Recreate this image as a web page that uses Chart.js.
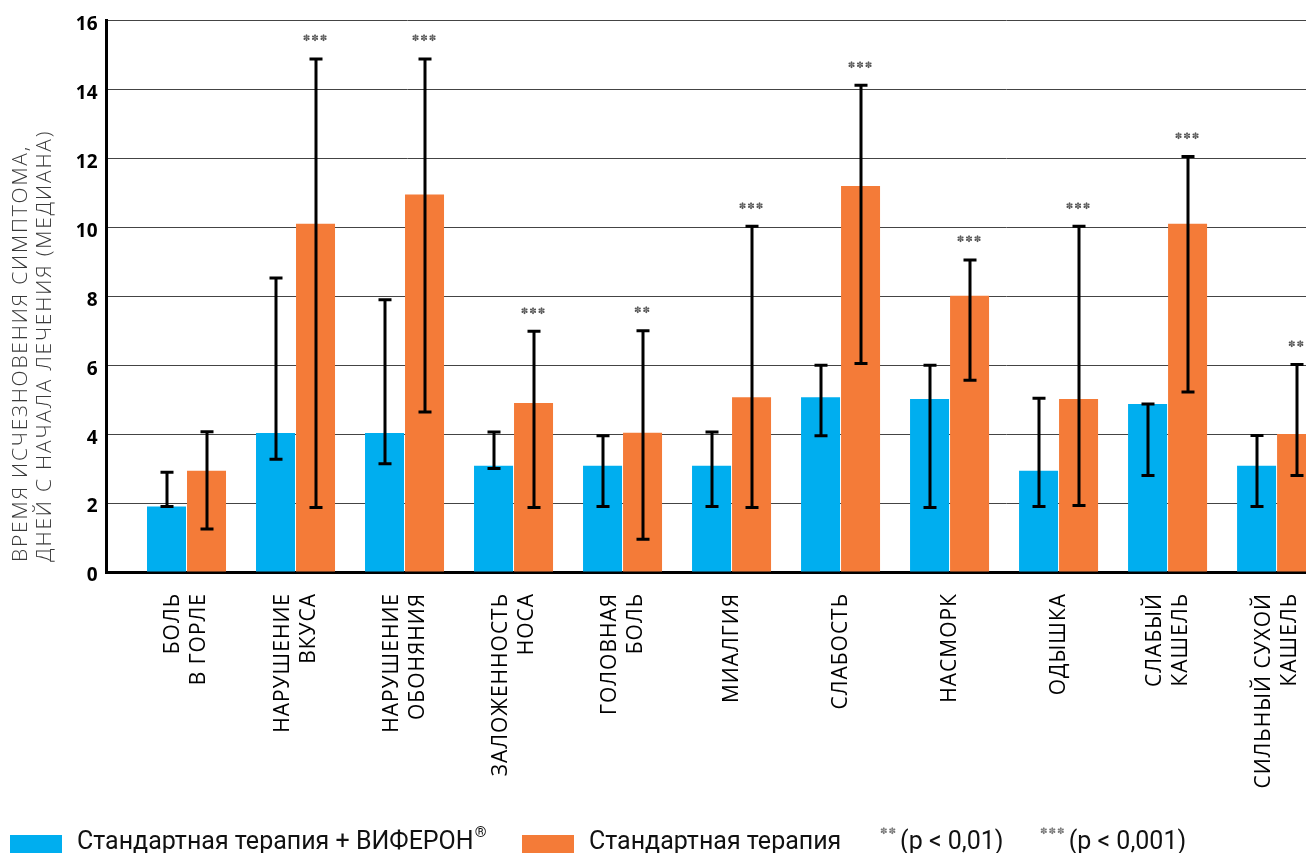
<!DOCTYPE html>
<html>
<head>
<meta charset="utf-8">
<script src="https://cdn.jsdelivr.net/npm/chart.js@4/dist/chart.umd.min.js"></script>
<style>
  html, body { margin: 0; padding: 0; background: #fff; width: 1306px; height: 853px; overflow: hidden; }
  #wrap { position: relative; width: 1306px; height: 853px; }
  #chart { position: absolute; left: 0; top: 0; }
  .legend { position: absolute; left: 0; top: 0; width: 1306px; height: 853px; pointer-events: none;
            font-family: Roboto, "Open Sans", sans-serif; font-size: 25px; color: #111; }
  .item { position: absolute; top: 822px; height: 36px; display: flex; align-items: center; white-space: nowrap; }
  .sw { width: 52px; height: 27px; margin-right: 15px; align-self: flex-end; margin-bottom: -4px; }
  .st { font-family: "DejaVu Sans", sans-serif; font-size: 9px; color: #777; letter-spacing: 1px; margin-right: 3px; position: relative; top: -9px; }
  .reg { font-size: 15px; position: relative; top: -8px; margin-left: 1px; }
</style>
</head>
<body>
<div id="wrap">
  <canvas id="chart" width="1306" height="853"></canvas>
  <div class="legend">
    <div class="item" style="left:10px"><span class="sw" style="background:#00AEEF"></span>Стандартная терапия + ВИФЕРОН<span class="reg">®</span></div>
    <div class="item" style="left:522px"><span class="sw" style="background:#F47B38"></span>Стандартная терапия</div>
    <div class="item" style="left:880px"><span class="st">✽✽</span>(p &lt; 0,01)</div>
    <div class="item" style="left:1040px"><span class="st">✽✽✽</span>(p &lt; 0,001)</div>
  </div>
</div>
<script>
// Symptoms (each label split into the lines drawn under the axis)
const symptoms = [
  ['БОЛЬ', 'В ГОРЛЕ'],
  ['НАРУШЕНИЕ', 'ВКУСА'],
  ['НАРУШЕНИЕ', 'ОБОНЯНИЯ'],
  ['ЗАЛОЖЕННОСТЬ', 'НОСА'],
  ['ГОЛОВНАЯ', 'БОЛЬ'],
  ['МИАЛГИЯ'],
  ['СЛАБОСТЬ'],
  ['НАСМОРК'],
  ['ОДЫШКА'],
  ['СЛАБЫЙ', 'КАШЕЛЬ'],
  ['СИЛЬНЫЙ СУХОЙ', 'КАШЕЛЬ']
];

// Median days until the symptom disappears
const viferonMedian = [1.9, 4.03, 4.03, 3.08, 3.08, 3.08, 5.07, 5.02, 2.94, 4.87, 3.08];
const standardMedian = [2.94, 10.1, 10.95, 4.9, 4.04, 5.07, 11.2, 8.01, 5.02, 10.1, 4.0];

// Interval bounds (low / high) for each group
const viferonLow  = [1.9, 3.27, 3.14, 3.0, 1.9, 1.9, 3.95, 1.87, 1.9, 2.8, 1.9];
const viferonHigh = [2.89, 8.53, 7.9, 4.06, 3.95, 4.06, 6.0, 6.0, 5.04, 4.87, 3.96];
const standardLow  = [1.25, 1.87, 4.64, 1.87, 0.95, 1.87, 6.05, 5.56, 1.93, 5.22, 2.8];
const standardHigh = [4.07, 14.88, 14.88, 6.98, 7.0, 10.03, 14.12, 9.05, 10.03, 12.05, 6.02];

// Significance marks vs. the combined therapy
const significance = ['', '***', '***', '***', '**', '***', '***', '***', '***', '***', '**'];

// Y axis
const yTicks = [0, 2, 4, 6, 8, 10, 12, 14, 16];
const yTitle = ['ВРЕМЯ ИСЧЕЗНОВЕНИЯ СИМПТОМА,', 'ДНЕЙ С НАЧАЛА ЛЕЧЕНИЯ (МЕДИАНА)'];

const seriesNames = ['Стандартная терапия + ВИФЕРОН®', 'Стандартная терапия'];
const BLUE = '#00AEEF';
const ORANGE = '#F47B38';

const toPoints = arr => arr.map((v, i) => ({ x: i, y: v }));

// Whiskers, significance stars and rotated category labels
const annotations = {
  id: 'annotations',
  afterDatasetsDraw(chart) {
    const ctx = chart.ctx;
    const y = chart.scales.y;
    const bounds = [[viferonLow, viferonHigh], [standardLow, standardHigh]];
    ctx.save();
    ctx.strokeStyle = '#000';
    ctx.lineWidth = 3;
    ctx.lineCap = 'butt';
    bounds.forEach(([lo, hi], d) => {
      const meta = chart.getDatasetMeta(d);
      meta.data.forEach((bar, i) => {
        const x = Math.round(bar.x);
        const y1 = y.getPixelForValue(lo[i]);
        const y2 = y.getPixelForValue(hi[i]);
        ctx.beginPath();
        ctx.moveTo(x, y1); ctx.lineTo(x, y2);
        ctx.moveTo(x - 6.5, y1); ctx.lineTo(x + 6.5, y1);
        ctx.moveTo(x - 6.5, y2); ctx.lineTo(x + 6.5, y2);
        ctx.stroke();
      });
    });
    // stars above the standard-therapy whiskers
    const meta = chart.getDatasetMeta(1);
    ctx.fillStyle = '#555';
    ctx.font = '9px "DejaVu Sans"';
    ctx.textAlign = 'center';
    ctx.textBaseline = 'middle';
    ctx.letterSpacing = '1px';
    meta.data.forEach((bar, i) => {
      if (!significance[i]) return;
      const stars = significance[i].replace(/\*/g, '✽');
      const yTop = y.getPixelForValue(standardHigh[i]);
      ctx.fillText(stars, bar.x, yTop - 20);
    });
    ctx.restore();
  },
  afterDraw(chart) {
    const ctx = chart.ctx;
    const x = chart.scales.x;
    const area = chart.chartArea;
    ctx.save();
    // category labels, rotated, ending just under the axis
    ctx.fillStyle = '#000';
    ctx.font = '21px "Open Sans"';
    ctx.textAlign = 'right';
    ctx.textBaseline = 'middle';
    ctx.letterSpacing = '1px';
    const lh = 26;
    symptoms.forEach((lines, i) => {
      const cx = x.getPixelForValue(i);
      const n = lines.length;
      lines.forEach((line, k) => {
        const lx = cx + (k - (n - 1) / 2) * lh;
        ctx.save();
        ctx.translate(lx, area.bottom + 21);
        ctx.rotate(-Math.PI / 2);
        ctx.fillText(line, 0, 0);
        ctx.restore();
      });
    });
    // y axis title, two rotated lines starting at the bottom
    ctx.fillStyle = '#3a3a3a';
    ctx.font = '300 21px "Open Sans"';
    ctx.textAlign = 'left';
    ctx.letterSpacing = '1.8px';
    yTitle.forEach((line, k) => {
      ctx.save();
      ctx.translate(21 + k * 24.5, 562);
      ctx.rotate(-Math.PI / 2);
      ctx.fillText(line, 0, 0);
      ctx.restore();
    });
    ctx.restore();
  }
};

function build() {
  new Chart(document.getElementById('chart'), {
    type: 'bar',
    data: {
      datasets: [
        { label: seriesNames[0], data: toPoints(viferonMedian), backgroundColor: BLUE, borderWidth: 0 },
        { label: seriesNames[1], data: toPoints(standardMedian), backgroundColor: ORANGE, borderWidth: 0 }
      ]
    },
    options: {
      responsive: false,
      animation: false,
      devicePixelRatio: 1,
      layout: { padding: { top: 17, right: 0, left: 0, bottom: 0 } },
      datasets: { bar: { categoryPercentage: 0.734, barPercentage: 0.975 } },
      plugins: { legend: { display: false }, tooltip: { enabled: false } },
      scales: {
        x: {
          type: 'linear',
          offset: false,
          min: -0.734,
          max: 10.27,
          afterBuildTicks(scale) { scale.ticks = symptoms.map((_, i) => ({ value: i })); },
          grid: { display: false, drawTicks: false, offset: false },
          border: { display: true, color: '#000', width: 3 },
          ticks: { display: false },
          afterFit(scale) { scale.height = 853 - 572; }
        },
        y: {
          min: 0,
          max: 16,
          afterBuildTicks(scale) { scale.ticks = yTicks.map(v => ({ value: v })); },
          grid: { color: '#444', lineWidth: 1, drawTicks: false },
          border: { display: true, color: '#000', width: 3 },
          ticks: {
            padding: 9,
            color: '#000',
            font: { family: 'Open Sans', weight: 'bold', size: 19 },
            labelOffset: 4
          },
          afterFit(scale) { scale.width = 106.5; }
        }
      }
    },
    plugins: [annotations]
  });
}

const fontsReady = Promise.all([
  document.fonts.load('bold 19px "Open Sans"'),
  document.fonts.load('21px "Open Sans"'),
  document.fonts.load('300 21px "Open Sans"'),
  document.fonts.load('9px "DejaVu Sans"')
]).catch(() => null);
fontsReady.then(build, build);
</script>
</body>
</html>
